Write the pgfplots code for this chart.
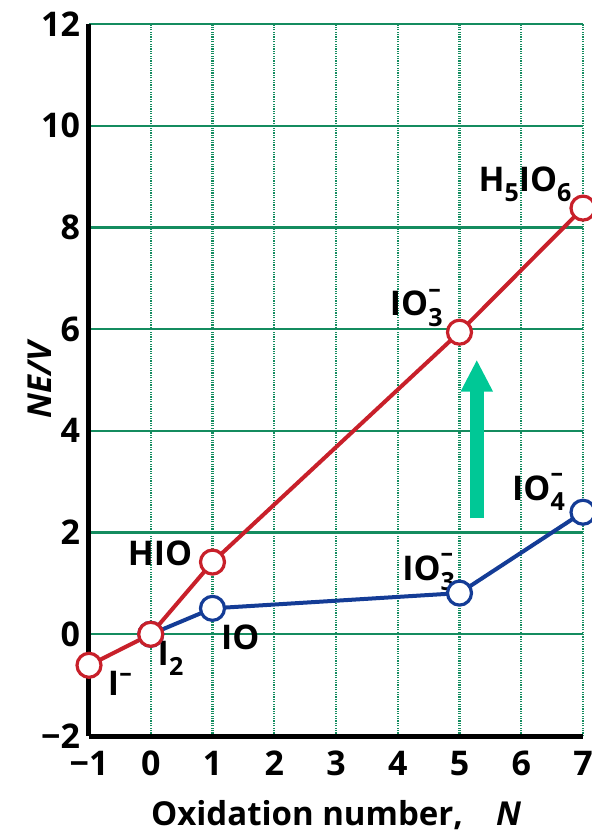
\documentclass[border=0pt]{standalone}
\usepackage{fontspec}
\setmainfont{Open Sans}
\usepackage{pgfplots}
\pgfplotsset{compat=1.18}
\usetikzlibrary{arrows.meta}
\definecolor{gridgreen}{RGB}{20,140,95}
\definecolor{redline}{RGB}{200,32,42}
\definecolor{blueline}{RGB}{20,60,150}
\definecolor{arrowgreen}{RGB}{0,200,150}
\newcommand\sm{\fontsize{12.5}{13}\selectfont}
\newcommand\subsup[2]{\rlap{\raisebox{0.55em}{\sm #2}}\raisebox{-0.3em}{\sm #1}}
\newcommand\sub[1]{\raisebox{-0.3em}{\sm #1}}
\begin{document}
\begin{tikzpicture}
\begin{axis}[
  name=ax,
  scale only axis,
  width=247pt, height=356pt,
  xmin=-1, xmax=7, ymin=-2, ymax=12,
  axis x line*=bottom, axis y line*=left,
  axis line style={line width=2.5pt, black},
  xtick={-1,0,...,7}, ytick={-2,0,...,12},
  xticklabels={−1,0,1,2,3,4,5,6,7},
  yticklabels={−2,0,2,4,6,8,10,12},
  major tick length=0pt,
  tick label style={font=\fontsize{17}{19}\selectfont\bfseries},
  xticklabel style={yshift=-4pt},
  yticklabel style={xshift=-1pt},
  grid=major,
  x grid style={gridgreen, line width=1.1pt, dash pattern=on 0.6pt off 0.6pt},
  y grid style={gridgreen, line width=1.1pt},
  xlabel={\fontsize{16.5}{18}\selectfont\bfseries Oxidation number,\quad\itshape N},
  ylabel={\fontsize{16.5}{18}\selectfont\bfseries\itshape NE/V},
  xlabel style={at={(axis description cs:0.5,0)}, anchor=center, yshift=-39.5pt},
  ylabel style={at={(axis description cs:0,0.5)}, anchor=center, yshift=24.5pt},
  clip=false,
]
\addplot[blueline, line width=2pt, mark=*, mark size=6pt,
  mark options={fill=white, draw=blueline, line width=1.6pt}]
  coordinates {(0,0) (1,0.51) (5,0.81) (7,2.40)};
\addplot[redline, line width=2pt, mark=*, mark size=6pt,
  mark options={fill=white, draw=redline, line width=1.6pt}]
  coordinates {(-1,-0.61) (0,0) (1,1.42) (5,5.94) (7,8.38)};
\addplot[arrowgreen, line width=7pt, -{Triangle[width=15pt,length=16pt]}]
  coordinates {(5.28,2.28) (5.28,5.40)};
\begin{scope}[every node/.style={font=\fontsize{17}{19}\selectfont\bfseries, inner sep=0pt}]
\node at (axis cs:-0.5,-0.96) {I\raisebox{0.4em}{\sm –}};
\node at (axis cs:0.32,-0.47) {I\sub{2}};
\node at (axis cs:1.45,-0.06) {IO};
\node at (axis cs:0.15,1.6) {HIO};
\node at (axis cs:4.3,6.42) {IO\subsup{3}{–}};
\node at (axis cs:6.06,8.85) {H\sub{5}IO\sub{6}};
\node at (axis cs:4.5,1.22) {IO\subsup{3}{–}};
\node at (axis cs:6.28,2.8) {IO\subsup{4}{–}};
\end{scope}
\end{axis}
\pgfresetboundingbox
\path[use as bounding box] ([shift={(-44.5pt,-47.5pt)}]ax.south west) rectangle ([shift={(4.5pt,12pt)}]ax.north east);
\end{tikzpicture}
\end{document}
